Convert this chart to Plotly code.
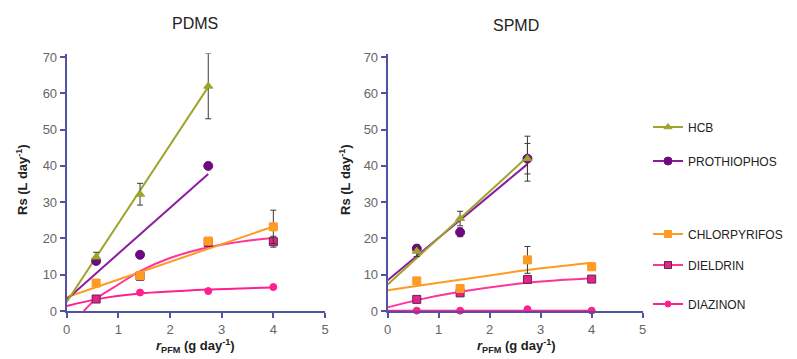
import plotly.graph_objects as go

W, H = 797, 359

# ---------------- data ----------------
x_pts = [0.57, 1.42, 2.74, 4.0]

# PDMS measured values
pdms_hcb = [14.9, 32.2, 62.0]
pdms_hcb_err = [1.3, 3.0, 9.0]
pdms_proth = [13.8, 15.5, 40.0]
pdms_proth_err = [0.4, 0.4, 0.5]
pdms_chlor = [7.7, 9.8, 19.3, 23.2]
pdms_chlor_err = [0.5, 0.5, 0.8, 4.6]
pdms_diel = [3.3, 9.6, 18.9, 19.1]
pdms_diel_err = [0.5, 1.0, 1.0, 1.5]
pdms_diaz = [3.3, 5.1, 5.5, 6.6]
pdms_diaz_err = [0.3, 0.3, 0.3, 0.3]

# SPMD measured values
spmd_hcb = [16.5, 25.5, 42.0]
spmd_hcb_err = [1.5, 2.0, 6.2]
spmd_proth = [17.2, 21.7, 42.0]
spmd_proth_err = [1.0, 1.2, 4.2]
spmd_chlor = [8.3, 6.2, 14.1, 12.2]
spmd_chlor_err = [0.5, 0.5, 3.7, 0.5]
spmd_diel = [3.2, 5.0, 8.7, 8.8]
spmd_diel_err = [0.5, 0.5, 0.5, 0.5]
spmd_diaz = [0.1, 0.1, 0.5, 0.1]
spmd_diaz_err = [0.1, 0.1, 0.1, 0.1]

# fitted curves
pdms_fit_hcb_x, pdms_fit_hcb_y = [0, 2.74], [2.5, 61.8]
pdms_fit_proth_x, pdms_fit_proth_y = [0, 2.74], [3.2, 37.8]
pdms_fit_chlor_x, pdms_fit_chlor_y = [0, 4.0], [3.8, 23.3]
pdms_fit_diel_x = [0.33, 0.57, 1.0, 1.42, 2.0, 2.74, 3.5, 4.0]
pdms_fit_diel_y = [0.0, 3.4, 7.3, 11.0, 14.6, 17.6, 19.4, 20.1]
pdms_fit_diaz_x = [0, 0.57, 1.42, 2.74, 4.0]
pdms_fit_diaz_y = [1.4, 3.2, 4.8, 5.9, 6.5]

spmd_fit_hcb_x, spmd_fit_hcb_y = [0, 2.74], [7.3, 42.5]
spmd_fit_proth_x, spmd_fit_proth_y = [0, 2.74], [8.5, 40.5]
spmd_fit_chlor_x = [0, 1.0, 2.0, 2.74, 4.0]
spmd_fit_chlor_y = [5.7, 7.8, 9.8, 11.3, 13.3]
spmd_fit_diel_x = [0, 0.57, 1.42, 2.74, 4.0]
spmd_fit_diel_y = [1.0, 3.0, 5.3, 7.8, 9.0]
spmd_fit_diaz_x, spmd_fit_diaz_y = [0, 4.0], [0.1, 0.1]

names = ["HCB", "PROTHIOPHOS", "CHLORPYRIFOS", "DIELDRIN", "DIAZINON"]
x_ticks = [0, 1, 2, 3, 4, 5]
y_ticks = [0, 10, 20, 30, 40, 50, 60, 70]

# ---------------- styles ----------------
line_col = {"HCB": "#9ea52a", "PROTHIOPHOS": "#8c1c9e", "CHLORPYRIFOS": "#ff9a22",
            "DIELDRIN": "#ff3399", "DIAZINON": "#ff1f8f"}
mk_col = {"HCB": "#9ea52a", "PROTHIOPHOS": "#6e0a80", "CHLORPYRIFOS": "#ff9a22",
          "DIELDRIN": "#e8208a", "DIAZINON": "#ff1f8f"}
mk_line = {"HCB": "#9ea52a", "PROTHIOPHOS": "#6e0a80", "CHLORPYRIFOS": "#ff9a22",
           "DIELDRIN": "#5a2a4a", "DIAZINON": "#ff1f8f"}
mk_sym = {"HCB": "triangle-up", "PROTHIOPHOS": "circle", "CHLORPYRIFOS": "square",
          "DIELDRIN": "square", "DIAZINON": "circle"}
mk_size = {"HCB": 8, "PROTHIOPHOS": 9, "CHLORPYRIFOS": 8, "DIELDRIN": 8, "DIAZINON": 7}

AX = "#5252a3"
FONT = "Liberation Sans, Arial, sans-serif"

fig = go.Figure()

panels = [
    ("x", "y", {
        "HCB": (pdms_hcb, pdms_hcb_err, pdms_fit_hcb_x, pdms_fit_hcb_y),
        "PROTHIOPHOS": (pdms_proth, pdms_proth_err, pdms_fit_proth_x, pdms_fit_proth_y),
        "CHLORPYRIFOS": (pdms_chlor, pdms_chlor_err, pdms_fit_chlor_x, pdms_fit_chlor_y),
        "DIELDRIN": (pdms_diel, pdms_diel_err, pdms_fit_diel_x, pdms_fit_diel_y),
        "DIAZINON": (pdms_diaz, pdms_diaz_err, pdms_fit_diaz_x, pdms_fit_diaz_y),
    }),
    ("x2", "y2", {
        "HCB": (spmd_hcb, spmd_hcb_err, spmd_fit_hcb_x, spmd_fit_hcb_y),
        "PROTHIOPHOS": (spmd_proth, spmd_proth_err, spmd_fit_proth_x, spmd_fit_proth_y),
        "CHLORPYRIFOS": (spmd_chlor, spmd_chlor_err, spmd_fit_chlor_x, spmd_fit_chlor_y),
        "DIELDRIN": (spmd_diel, spmd_diel_err, spmd_fit_diel_x, spmd_fit_diel_y),
        "DIAZINON": (spmd_diaz, spmd_diaz_err, spmd_fit_diaz_x, spmd_fit_diaz_y),
    }),
]

draw_order = ["DIAZINON", "DIELDRIN", "CHLORPYRIFOS", "PROTHIOPHOS", "HCB"]
for xa, ya, d in panels:
    for n in draw_order:
        vals, err, fx, fy = d[n]
        fig.add_trace(go.Scatter(
            x=fx, y=fy, mode="lines", xaxis=xa, yaxis=ya, showlegend=False,
            line=dict(color=line_col[n], width=2, shape="spline", smoothing=0.8),
            hoverinfo="skip"))
    for n in draw_order:
        vals, err, fx, fy = d[n]
        fig.add_trace(go.Scatter(
            x=x_pts[:len(vals)], y=vals, mode="markers", xaxis=xa, yaxis=ya,
            showlegend=False, cliponaxis=False,
            marker=dict(color=mk_col[n], symbol=mk_sym[n], size=mk_size[n],
                        line=dict(color=mk_line[n], width=1)),
            error_y=dict(type="data", array=err, color="#3a3a3a", thickness=1, width=3)))

# legend entries (separate legends to reproduce the uneven spacing)
legend_y_px = {"HCB": 127, "PROTHIOPHOS": 161, "CHLORPYRIFOS": 234, "DIELDRIN": 265, "DIAZINON": 304}
layout_legends = {}
for i, n in enumerate(names):
    key = "legend" if i == 0 else f"legend{i + 1}"
    fig.add_trace(go.Scatter(
        x=[None], y=[None], mode="lines+markers", name=n, legend=key,
        line=dict(color=line_col[n], width=2),
        marker=dict(color=mk_col[n], symbol=mk_sym[n], size=mk_size[n] - 1,
                    line=dict(color=mk_line[n], width=1))))
    layout_legends[key] = dict(
        x=648 / W, y=1 - legend_y_px[n] / H, xanchor="left", yanchor="middle",
        bgcolor="rgba(0,0,0,0)", borderwidth=0, itemwidth=30,
        font=dict(family=FONT, size=12, color="#222222"))

axis_common = dict(
    showgrid=False, zeroline=False, showline=True, linecolor=AX, linewidth=2,
    ticks="outside", tickcolor=AX, tickwidth=1.5, ticklen=5,
    tickfont=dict(family=FONT, size=13, color="#666666"), fixedrange=True)

ybot = 1 - 311 / H
ytop = 1 - 53.5 / H

fig.update_layout(
    width=W, height=H,
    margin=dict(l=0, r=0, t=0, b=0, autoexpand=False),
    paper_bgcolor="white", plot_bgcolor="white",
    showlegend=True,
    xaxis=dict(domain=[66.7 / W, 325 / W], range=[0, 5], tickvals=x_ticks, anchor="y", **axis_common),
    yaxis=dict(domain=[ybot, ytop], range=[0, 71], tickvals=y_ticks, anchor="x", **axis_common),
    xaxis2=dict(domain=[387.7 / W, 642.7 / W], range=[0, 5], tickvals=x_ticks, anchor="y2", **axis_common),
    yaxis2=dict(domain=[ybot, ytop], range=[0, 71], tickvals=y_ticks, anchor="x2", **axis_common),
    **layout_legends,
)

def ann(text, xpx, ypx, size=12, bold=False, angle=0, color="#222222"):
    fig.add_annotation(
        text=f"<b>{text}</b>" if bold else text, x=xpx / W, y=1 - ypx / H,
        xref="paper", yref="paper", showarrow=False, textangle=angle,
        xanchor="center", yanchor="middle",
        font=dict(family=FONT, size=size, color=color))

ann("PDMS", 195, 23, size=16)
ann("SPMD", 516, 25, size=16)
ann("Rs (L day<sup>-1</sup>)", 22, 180, size=13, bold=True, angle=-90)
ann("Rs (L day<sup>-1</sup>)", 345, 180, size=13, bold=True, angle=-90)
ann("<i>r</i><sub>PFM</sub> (g day<sup>-1</sup>)", 195, 346, size=13, bold=True)
ann("<i>r</i><sub>PFM</sub> (g day<sup>-1</sup>)", 516, 346, size=13, bold=True)

fig.write_html("out.html", config={"displayModeBar": False},
               post_script="document.body.style.margin='0';document.body.style.overflow='hidden';")
